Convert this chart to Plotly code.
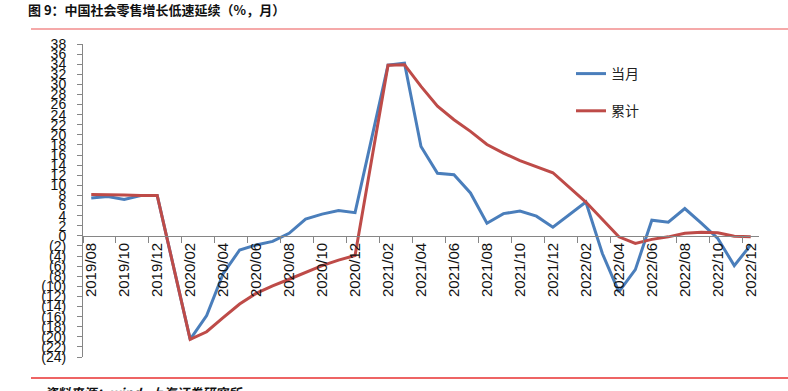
import plotly.graph_objects as go

months = ["2019/08", "2019/09", "2019/10", "2019/11", "2019/12",
          "2020/01", "2020/02", "2020/03", "2020/04", "2020/05", "2020/06",
          "2020/07", "2020/08", "2020/09", "2020/10", "2020/11", "2020/12",
          "2021/01", "2021/02", "2021/03", "2021/04", "2021/05", "2021/06",
          "2021/07", "2021/08", "2021/09", "2021/10", "2021/11", "2021/12",
          "2022/01", "2022/02", "2022/03", "2022/04", "2022/05", "2022/06",
          "2022/07", "2022/08", "2022/09", "2022/10", "2022/11", "2022/12"]

monthly = [7.5, 7.8, 7.2, 8.0, 8.0,
           None, -20.5, -15.8, -7.5, -2.8, -1.8,
           -1.1, 0.5, 3.3, 4.3, 5.0, 4.6,
           None, 33.8, 34.2, 17.7, 12.4, 12.1,
           8.5, 2.5, 4.4, 4.9, 3.9, 1.7,
           None, 6.7, -3.5, -11.1, -6.7, 3.1,
           2.7, 5.4, 2.5, -0.5, -5.9, -1.8]

cumulative = [8.2, 8.2, 8.1, 8.0, 8.0,
              None, -20.5, -19.0, -16.2, -13.5, -11.4,
              -9.9, -8.6, -7.2, -5.9, -4.8, -3.9,
              None, 33.8, 33.9, 29.6, 25.7, 23.0,
              20.7, 18.1, 16.4, 14.9, 13.7, 12.5,
              None, 6.7, 3.3, -0.2, -1.5, -0.7,
              -0.2, 0.5, 0.7, 0.6, -0.1, -0.2]

series_names = ["当月", "累计"]
y_ticks = list(range(-24, 39, 2))
y_ticktext = [str(v) if v >= 0 else "(%d)" % (-v) for v in y_ticks]

idx = list(range(len(months)))
label_idx = idx[::2]
label_text = [months[i] for i in label_idx]
boundary_ticks = [i - 0.5 for i in range(0, len(months) + 1, 2)]

BLUE = "#4a7ebb"
RED = "#be4b48"
AXIS = "#868686"
SANS = "Liberation Sans, Arial, sans-serif"

W, H = 788, 391
L, R, T, B = 83, 759, 44, 357
pw, ph = R - L, B - T

def px(x):
    return (x - L) / pw

def py(y):
    return (B - y) / ph

fig = go.Figure()
fig.add_trace(go.Scatter(x=idx, y=monthly, name=series_names[0], mode="lines",
                         connectgaps=True, line=dict(color=BLUE, width=3),
                         legendgroup="a"))
fig.add_trace(go.Scatter(x=idx, y=cumulative, name=series_names[1], mode="lines",
                         connectgaps=True, line=dict(color=RED, width=3),
                         legendgroup="b"))

fig.update_layout(
    template="none",
    width=W, height=H,
    margin=dict(l=L, r=W - R, t=T, b=H - B, autoexpand=False),
    paper_bgcolor="white", plot_bgcolor="white",
    showlegend=True,
    title=dict(text="<b>图 9：中国社会零售增长低速延续（%，月）</b>",
               xref="container", yref="container",
               x=28 / W, xanchor="left",
               y=1 - 10 / H, yanchor="middle",
               font=dict(family="Noto Sans CJK SC", size=13, color="#111")),
    legend=dict(x=px(571), y=py(58), xanchor="left", yanchor="top",
                font=dict(family="Noto Sans CJK SC", size=14, color="#222"),
                tracegroupgap=16, itemwidth=30, bgcolor="rgba(0,0,0,0)"),
    xaxis=dict(
        range=[-0.5, len(months) - 0.5], automargin=False,
        anchor="free", position=24 / 62,
        showline=True, linecolor=AXIS, linewidth=1,
        showgrid=False, zeroline=False,
        tickmode="array", tickvals=label_idx, ticktext=label_text,
        ticks="", tickangle=-90,
        tickfont=dict(family=SANS, size=15, color="#111"),
        minor=dict(tickmode="array", tickvals=boundary_ticks, ticks="outside",
                   ticklen=6, tickcolor=AXIS, showgrid=False),
    ),
    yaxis=dict(
        range=[-24, 38], automargin=False,
        showline=True, linecolor=AXIS, linewidth=1,
        showgrid=False, zeroline=False,
        tickmode="array", tickvals=y_ticks, ticktext=y_ticktext,
        ticks="outside", ticklen=5, tickcolor=AXIS,
        ticklabelstandoff=8,
        tickfont=dict(family=SANS, size=14, color="#111"),
    ),
)

fig.add_shape(type="line", xref="paper", yref="paper",
              x0=px(31), x1=px(788), y0=py(29), y1=py(29),
              line=dict(color="#f28c8c", width=1.5))
fig.add_shape(type="line", xref="paper", yref="paper",
              x0=px(31), x1=px(788), y0=py(378), y1=py(378),
              line=dict(color="#e83030", width=1.5))

fig.add_annotation(xref="paper", yref="paper", x=px(42), y=py(381),
                   xanchor="left", yanchor="top", showarrow=False,
                   text="<i><b>资料来源：wind   上海证券研究所</b></i>",
                   font=dict(family="Noto Sans CJK SC", size=13, color="#111"))

fig.write_html("out.html",
               config={"displayModeBar": False},
               post_script="document.body.style.margin='0';"
                           "document.documentElement.style.overflow='hidden';")
